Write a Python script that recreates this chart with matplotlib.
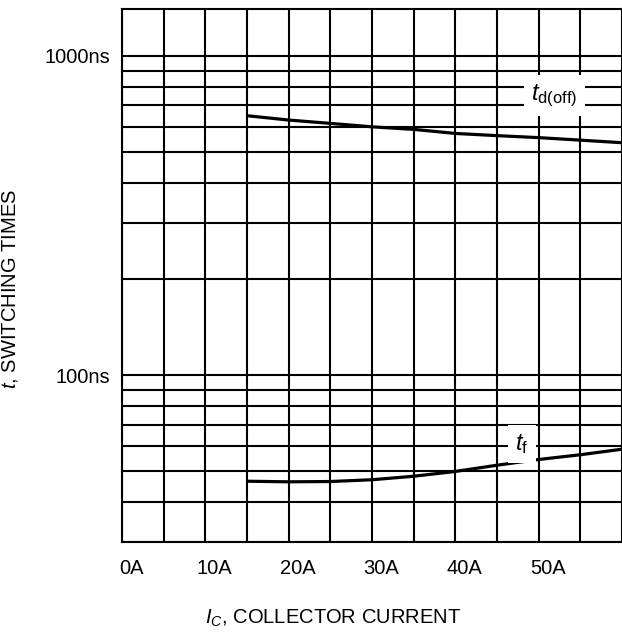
import matplotlib
matplotlib.use("Agg")
import matplotlib.pyplot as plt
from matplotlib.ticker import FixedLocator, LogLocator, NullFormatter
from matplotlib.transforms import ScaledTranslation

plt.rcParams['font.family'] = ['Liberation Sans', 'DejaVu Sans']
plt.rcParams['mathtext.fontset'] = 'custom'
plt.rcParams['mathtext.rm'] = 'Liberation Sans'
plt.rcParams['mathtext.it'] = 'Liberation Sans:italic'

# collector current (A) and switching times (ns)
ic = [15, 20, 25, 30, 35, 40, 45, 50, 55, 60]
td_off = [650, 630, 615, 600, 589, 572, 563, 555, 545, 535]
t_f = [46.6, 46.4, 46.5, 47.1, 48.3, 50.0, 52.3, 54.5, 56.4, 58.7]

x_ticks = [0, 10, 20, 30, 40, 50]
x_labels = ['0A', '10A', '20A', '30A', '40A', '50A']
y_ticks = [100, 1000]
y_labels = ['100ns', '1000ns']

fig = plt.figure(figsize=(6.22, 6.33), dpi=100)
ax = fig.add_axes([122 / 622, 1 - 542.3 / 633, 500 / 622, 533 / 633])

ax.set_yscale('log')
ax.set_xlim(0, 60)
ax.set_ylim(30, 1400)

ax.plot(ic, td_off, color='black', lw=2.3, solid_capstyle='butt', zorder=3)
ax.plot(ic, t_f, color='black', lw=2.3, solid_capstyle='butt', zorder=3)

# grid: every 5A across, 1-2-...-9 per decade up
ax.xaxis.set_major_locator(FixedLocator(x_ticks))
ax.xaxis.set_minor_locator(FixedLocator([5, 15, 25, 35, 45, 55]))
ax.set_xticklabels(x_labels)
ax.yaxis.set_major_locator(FixedLocator(y_ticks))
ax.yaxis.set_minor_locator(LogLocator(base=10, subs=range(2, 10)))
ax.yaxis.set_minor_formatter(NullFormatter())
ax.set_yticklabels(y_labels)
ax.grid(which='both', color='black', lw=1.5)
ax.set_axisbelow(True)
ax.tick_params(which='both', length=0, labelsize=14.5)
ax.tick_params(axis='x', pad=12)
ax.tick_params(axis='y', pad=8.5)
for lbl in ax.get_xticklabels():
    lbl.set_transform(lbl.get_transform() + ScaledTranslation(0.09, 0, fig.dpi_scale_trans))
for sp in ax.spines.values():
    sp.set_linewidth(1.5)

# curve labels on white patches
ax.text(51.9, 752, r'$t_{\mathrm{d(off)}}$', fontsize=17, ha='center', va='center',
        bbox=dict(boxstyle='square,pad=0.3', fc='white', ec='none'), zorder=4)
ax.text(48.0, 61.0, r'$t_{\mathrm{f}}$', fontsize=17, ha='center', va='center',
        bbox=dict(boxstyle='square,pad=0.3', fc='white', ec='none'), zorder=4)

fig.text(333 / 622, 1 - 618 / 633, r'$I_C$, COLLECTOR CURRENT', fontsize=14.5,
         ha='center', va='center')
fig.text(10 / 622, 1 - 289 / 633, r'$t$, SWITCHING TIMES', fontsize=14.5,
         ha='center', va='center', rotation=90)

fig.savefig('out.png', dpi=100)
